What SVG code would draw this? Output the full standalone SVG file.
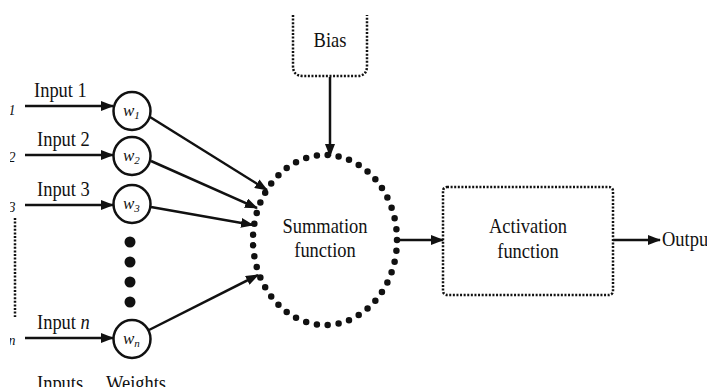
<svg xmlns="http://www.w3.org/2000/svg" width="707" height="387" viewBox="0 0 707 387">
<style>
  .lbl { font-size: 21px; }
  .w { font-size: 17px; font-style: italic; }
  .sub { font-size: 11px; font-style: italic; }
  .lsub { font-size: 14px; font-style: italic; }
  .line { stroke: #111; stroke-width: 2.5; fill: none; }
  .wc { stroke: #111; stroke-width: 2.5; fill: #fff; }
  .dotbox { stroke: #111; stroke-width: 2.5; fill: none; stroke-dasharray: 2 1.6; }
  .dotcirc { stroke: #111; stroke-width: 6.5; fill: none; stroke-linecap: round; stroke-dasharray: 0 1; }
</style>
<defs>
  <marker id="ah" markerUnits="userSpaceOnUse" markerWidth="13" markerHeight="10" refX="12" refY="5" orient="auto">
    <path d="M0,0 L13,5 L0,10 z" fill="#111"/>
  </marker>
  <clipPath id="lc"><rect x="10" y="0" width="30" height="387"/></clipPath>
</defs>
<rect width="707" height="387" fill="#fff"/>
<g font-family="'Liberation Serif', serif" fill="#111">

<g id="inputs-left" clip-path="url(#lc)">
  <text class="w" x="1" y="110" font-size="18">x<tspan class="lsub" dy="5">1</tspan></text>
  <text class="w" x="1" y="157" font-size="18">x<tspan class="lsub" dy="5">2</tspan></text>
  <text class="w" x="1" y="207" font-size="18">x<tspan class="lsub" dy="5">3</tspan></text>
  <text class="w" x="1" y="340" font-size="18">x<tspan class="lsub" dy="5">n</tspan></text>
</g>
<line id="input-dots" x1="15" y1="218" x2="15" y2="317" class="dotbox"/>

<g id="labels-inputs">
  <text class="lbl" transform="translate(34,97) scale(0.88,1)">Input 1</text>
  <text class="lbl" transform="translate(37,146) scale(0.88,1)">Input 2</text>
  <text class="lbl" transform="translate(37,196) scale(0.88,1)">Input 3</text>
  <text class="lbl" transform="translate(37,329) scale(0.88,1)">Input <tspan font-style="italic">n</tspan></text>
  <text class="lbl" transform="translate(37,390) scale(0.88,1)">Inputs</text>
  <text class="lbl" transform="translate(106,390) scale(0.88,1)">Weights</text>
</g>

<g id="connectors">
  <line class="line" x1="25" y1="106" x2="113" y2="106" marker-end="url(#ah)"/>
  <line class="line" x1="25" y1="155" x2="113" y2="155" marker-end="url(#ah)"/>
  <line class="line" x1="25" y1="205" x2="113" y2="205" marker-end="url(#ah)"/>
  <line class="line" x1="25" y1="338" x2="113" y2="338" marker-end="url(#ah)"/>
  <line class="line" x1="150" y1="117" x2="267" y2="190" marker-end="url(#ah)"/>
  <line class="line" x1="151" y1="161" x2="257" y2="208" marker-end="url(#ah)"/>
  <line class="line" x1="151" y1="207" x2="253" y2="225" marker-end="url(#ah)"/>
  <line class="line" x1="149" y1="330" x2="258" y2="275" marker-end="url(#ah)"/>
  <line class="line" x1="330" y1="77" x2="330" y2="156" marker-end="url(#ah)"/>
  <line class="line" x1="398" y1="240" x2="443" y2="240" marker-end="url(#ah)"/>
  <line class="line" x1="613" y1="240" x2="660" y2="240" marker-end="url(#ah)"/>
</g>

<g id="w1"><ellipse class="wc" cx="132" cy="111" rx="18.5" ry="19"/><text class="w" x="123" y="116">w<tspan class="sub" dy="3">1</tspan></text></g>
<g id="w2"><ellipse class="wc" cx="132" cy="156" rx="18.5" ry="19"/><text class="w" x="123" y="161">w<tspan class="sub" dy="3">2</tspan></text></g>
<g id="w3"><ellipse class="wc" cx="132" cy="204" rx="18.5" ry="19"/><text class="w" x="123" y="209">w<tspan class="sub" dy="3">3</tspan></text></g>
<g id="wn"><ellipse class="wc" cx="132" cy="339" rx="18.5" ry="19"/><text class="w" x="123" y="344">w<tspan class="sub" dy="3">n</tspan></text></g>

<g id="weight-dots" fill="#111">
  <circle cx="130" cy="242" r="5.5"/>
  <circle cx="130" cy="262" r="5.5"/>
  <circle cx="130" cy="282" r="5.5"/>
  <circle cx="130" cy="302" r="5.5"/>
</g>

<g id="bias">
  <path class="dotbox" d="M293,15 V66 Q293,76 303,76 H357 Q367,76 367,66 V15"/>
  <text class="lbl" text-anchor="middle" transform="translate(330,47) scale(0.88,1)">Bias</text>
</g>

<g id="summation">
  <ellipse class="dotcirc" cx="325" cy="240" rx="72" ry="85" pathLength="45"/>
  <text class="lbl" text-anchor="middle" transform="translate(325,233) scale(0.88,1)">Summation</text>
  <text class="lbl" text-anchor="middle" transform="translate(325,257) scale(0.88,1)">function</text>
</g>

<g id="activation">
  <rect class="dotbox" x="443" y="187" width="170" height="108" rx="4"/>
  <text class="lbl" text-anchor="middle" transform="translate(528,233) scale(0.88,1)">Activation</text>
  <text class="lbl" text-anchor="middle" transform="translate(528,258) scale(0.88,1)">function</text>
</g>

<g id="output">
  <text class="lbl" transform="translate(662,246) scale(0.88,1)">Output</text>
</g>
</g>
</svg>
